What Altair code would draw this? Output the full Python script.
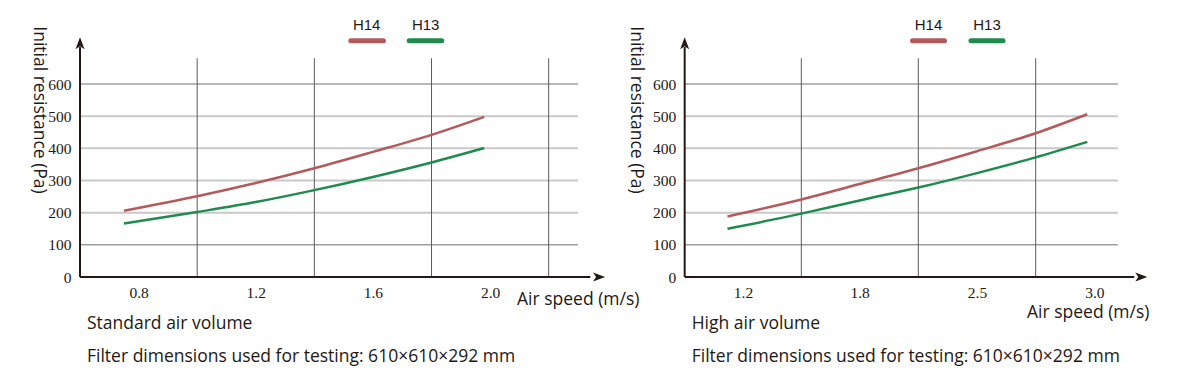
import altair as alt
import pandas as pd

# ---------------- data ----------------
series = ["H14", "H13"]
series_colors = ["#b35a5b", "#1f8b4c"]

y_ticks = [0, 100, 200, 300, 400, 500, 600]

# Standard air volume
std_ticks = [0.8, 1.2, 1.6, 2.0]
std_vgrid = [1.0, 1.4, 1.8, 2.2]
std_speed = [0.75, 1.0, 1.2, 1.4, 1.6, 1.8, 1.98]
std_h14 = [206, 251, 292, 338, 389, 442, 498]
std_h13 = [166, 202, 233, 270, 311, 356, 401]

# High air volume
high_ticks = [1.2, 1.8, 2.5, 3.0]
high_vgrid = [1.5, 2.15, 2.75]
high_speed = [1.12, 1.5, 1.8, 2.15, 2.5, 2.75, 2.97]
high_h14 = [188, 241, 289, 338, 391, 447, 506]
high_h13 = [150, 197, 238, 278, 323, 372, 420]

x_title = "Air speed (m/s)"
y_title = "Initial resistance (Pa)"
note = "Filter dimensions used for testing: 610×610×292 mm"

INK = "#231815"
SANS = "Open Sans"
SERIF = "Liberation Serif"
H = 269

color_scale = alt.Scale(domain=series, range=series_colors)
y_scale = alt.Scale(domain=[0, 600], range=[H, 76], nice=False, zero=False)

arrow_right = "M1,0 L-1,-0.75 L-0.5,0 L-1,0.75 Z"
arrow_up = "M0,-1 L0.75,1 L0,0.5 L-0.75,1 Z"


def panel(speed, h14, h13, ticks, vgrid, x_scale, x0, x_grid_end, x_arrow,
          axis_px, width, lay, subtitle):
    x_axis = alt.Axis(values=ticks, format=".1f", grid=False, domain=False,
                      ticks=False, tickSize=0, labelPadding=8, title=None,
                      labelFlush=False, labelOverlap=False,
                      labelFont=SERIF, labelFontSize=15.5, labelColor=INK)
    y_axis = alt.Axis(values=y_ticks, grid=False, domain=False, ticks=False,
                      tickSize=0, labelPadding=9, title=None, offset=-axis_px,
                      labelFlush=False, labelOverlap=False,
                      labelFont=SERIF, labelFontSize=15.5, labelColor=INK)
    X = lambda f: alt.X(f, type="quantitative", scale=x_scale, axis=x_axis)
    Y = lambda f: alt.Y(f, type="quantitative", scale=y_scale, axis=y_axis)

    curves = pd.DataFrame({
        "speed": speed * 2,
        "res": h14 + h13,
        "series": ["H14"] * len(speed) + ["H13"] * len(speed),
    })

    hgrid = pd.DataFrame({"res": y_ticks[1:], "xa": x0, "xb": x_grid_end})
    major = "datum.res == 100 || datum.res == 600"
    hgrid_layer = alt.Chart(hgrid).mark_rule().encode(
        x=X("xa"), x2="xb", y=Y("res"),
        stroke=alt.condition(major, alt.value("#6e6e6e"), alt.value("#c9c9c9")),
        strokeWidth=alt.condition(major, alt.value(1), alt.value(2)),
    )

    vg = pd.DataFrame({"speed": vgrid, "ya": 0, "yb": 680})
    vgrid_layer = alt.Chart(vg).mark_rule(color="#5a5a5a", strokeWidth=1).encode(
        x=X("speed"), y=Y("ya"), y2="yb")

    line_layer = alt.Chart(curves).mark_line(strokeWidth=2.5, interpolate="monotone").encode(
        x=X("speed"), y=Y("res"),
        color=alt.Color("series:N", scale=color_scale, legend=None),
    )

    xaxis = pd.DataFrame({"xa": [x0], "xb": [x_arrow - 0.03], "res": [0]})
    xaxis_layer = alt.Chart(xaxis).mark_rule(color=INK, strokeWidth=2).encode(
        x=X("xa"), x2="xb", y=Y("res"))
    yaxis = pd.DataFrame({"speed": [x0], "ya": [0], "yb": [715]})
    yaxis_layer = alt.Chart(yaxis).mark_rule(color=INK, strokeWidth=2).encode(
        x=X("speed"), y=Y("ya"), y2="yb")

    xarrow_layer = alt.Chart(pd.DataFrame({"speed": [x_arrow], "res": [0]})).mark_point(
        shape=arrow_right, size=144, filled=True, color=INK, opacity=1).encode(
        x=X("speed"), y=Y("res"))
    yarrow_layer = alt.Chart(pd.DataFrame({"speed": [x0], "res": [727]})).mark_point(
        shape=arrow_up, size=144, filled=True, color=INK, opacity=1).encode(
        x=X("speed"), y=Y("res"))

    layers = [hgrid_layer, vgrid_layer, xaxis_layer, yaxis_layer,
              xarrow_layer, yarrow_layer, line_layer]

    # legend
    for name in series:
        ldf = pd.DataFrame({"series": [name]})
        (a, b), tx = lay["sw"][name], lay["tx"][name]
        layers.append(alt.Chart(ldf).mark_rule(strokeWidth=5, strokeCap="round").encode(
            x=alt.value(a), x2=alt.value(b), y=alt.value(lay["sw_y"]),
            color=alt.Color("series:N", scale=color_scale, legend=None)))
        layers.append(alt.Chart(ldf).mark_text(
            font="Liberation Sans", fontSize=15, color=INK, align="center",
            baseline="middle").encode(
            x=alt.value(tx), y=alt.value(lay["tx_y"]), text="series:N"))

    def text(t, x, y, **kw):
        return alt.Chart(pd.DataFrame({"t": [t]})).mark_text(
            font=SANS, fontSize=17.5, color=INK, **kw).encode(
            x=alt.value(x), y=alt.value(y), text="t:N")

    layers.append(text(y_title, lay["yt"][0], lay["yt"][1], angle=90,
                       align="center", baseline="middle"))
    layers.append(text(x_title, lay["xt"][0], lay["xt"][1], align="left",
                       baseline="alphabetic"))
    layers.append(text(subtitle, lay["sub_x"], 321, align="left", baseline="alphabetic"))
    layers.append(text(note, lay["sub_x"], 354, align="left", baseline="alphabetic"))

    return alt.layer(*layers).properties(width=width, height=H)


std_scale = alt.Scale(domain=[0.8, 2.0], range=[130.6, 482.1], nice=False, zero=False)
high_scale = alt.Scale(domain=high_ticks, range=[135, 251.65, 369, 486.35],
                       nice=False, zero=False)

left = panel(std_speed, std_h14, std_h13, std_ticks, std_vgrid, std_scale,
             0.6, 2.3, 2.372, 72, 600,
             {"sw": {"H14": (342.8, 375.5), "H13": (401.2, 433.8)}, "sw_y": 32.7,
              "tx": {"H14": 358.7, "H13": 417.7}, "tx_y": 17,
              "yt": (31, 102), "xt": (509, 297), "sub_x": 79},
             "Standard air volume")

right = panel(high_speed, high_h14, high_h13, high_ticks, high_vgrid, high_scale,
              0.9, 3.1, 3.2, 76.7, 565,
              {"sw": {"H14": (304.5, 336.5), "H13": (363, 395)}, "sw_y": 32.7,
               "tx": {"H14": 320.5, "H13": 379}, "tx_y": 17,
               "yt": (28, 102), "xt": (419, 310), "sub_x": 83.7},
              "High air volume")

chart = alt.hconcat(left, right, spacing=0, bounds="flush", padding=0,
                    background="white").configure_view(stroke=None)

chart.save("out.html", embed_options={"renderer": "svg", "actions": False})
